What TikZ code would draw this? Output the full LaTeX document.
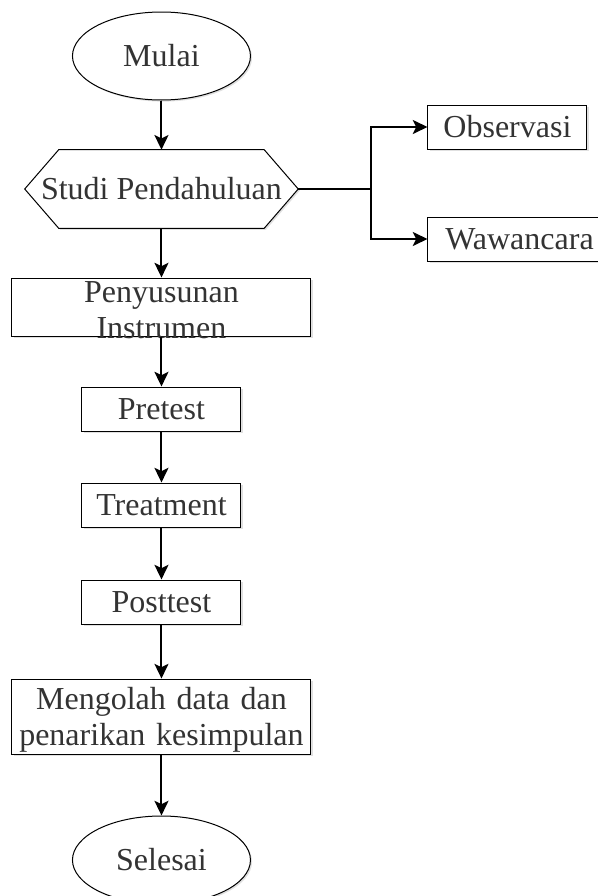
\documentclass[tikz,border=0pt]{standalone}
\usepackage{fontspec}
\setmainfont{Liberation Serif}
\usetikzlibrary{shapes.geometric,arrows.meta,shadows,positioning,backgrounds}

\begin{document}
\begin{tikzpicture}[node distance=3cm, auto, font=\fontsize{24pt}{27pt}\selectfont]

% Define styles
\tikzstyle{shade} = [general shadow={fill=black!12, shadow xshift=1.2pt, shadow yshift=-1.2pt}]
\tikzstyle{terminal} = [draw, ellipse, shade, fill=white, text=black!80, line width=0.75pt, minimum width=133.5pt, minimum height=66pt, inner sep=0pt]
\tikzstyle{block} = [draw, rectangle, shade, fill=white, text=black!80, line width=0.75pt, minimum width=119.25pt, minimum height=33pt, text centered]
\tikzstyle{wideblock} = [block, minimum width=224.25pt, text width=216.25pt, inner xsep=4pt, inner ysep=0pt, align=center]
\tikzstyle{prep} = [rectangle, text=black!80, minimum width=204.75pt, minimum height=58.5pt, inner sep=0pt]
\tikzstyle{outline} = [draw, shade, fill=white, line width=0.75pt]
\tikzstyle{line} = [-{Stealth[length=11pt, width=10.5pt, inset=2.5pt]}, line width=1.5pt]

\useasboundingbox (0,0) rectangle (447.75pt,-672pt);

% Main column
\node[terminal] (mulai) at (121.1pt,-42pt) {Mulai};
\node[prep, below of=mulai, node distance=99.75pt] (studi) {Studi Pendahuluan};
\node[wideblock, below of=studi, node distance=88.5pt, text height=18pt, text depth=25.5pt] (instrumen) {Penyusunan\\Instrumen};
\node[block, below of=instrumen, node distance=76.5pt] (pretest) {Pretest};
\node[block, below of=pretest, node distance=72pt] (treatment) {Treatment};
\node[block, below of=treatment, node distance=72.75pt] (posttest) {Posttest};
\node[wideblock, below of=posttest, node distance=85.9pt, text height=22.5pt, text depth=33.75pt] (olahdata) {Mengolah data dan\\penarikan kesimpulan};
\node[terminal, below of=olahdata, node distance=107.6pt] (selesai) {Selesai};

% Hexagon behind the text
\begin{scope}[on background layer]
\draw[outline] (studi.west) -- ([xshift=25.5pt]studi.north west) -- ([xshift=-25.5pt]studi.north east)
  -- (studi.east) -- ([xshift=-25.5pt]studi.south east) -- ([xshift=25.5pt]studi.south west) -- cycle;
\end{scope}

% Right branch
\coordinate[right of=studi, node distance=157.1pt] (cabang);
\node[block, right of=studi, node distance=259.5pt, yshift=46.5pt] (observasi) {Observasi};
\node[block, minimum width=137.25pt, right of=studi, node distance=268.5pt, yshift=-37.5pt] (wawancara) {Wawancara};

% Arrows
\draw[line] (mulai) -- (studi);
\draw[line] (studi) -- (instrumen);
\draw[line] (instrumen) -- (pretest);
\draw[line] (pretest) -- (treatment);
\draw[line] (treatment) -- (posttest);
\draw[line] (posttest) -- (olahdata);
\draw[line] (olahdata) -- (selesai);
\draw[line] (studi.east) -- (cabang) |- (observasi);
\draw[line] (cabang) |- (wawancara);

\end{tikzpicture}
\end{document}
